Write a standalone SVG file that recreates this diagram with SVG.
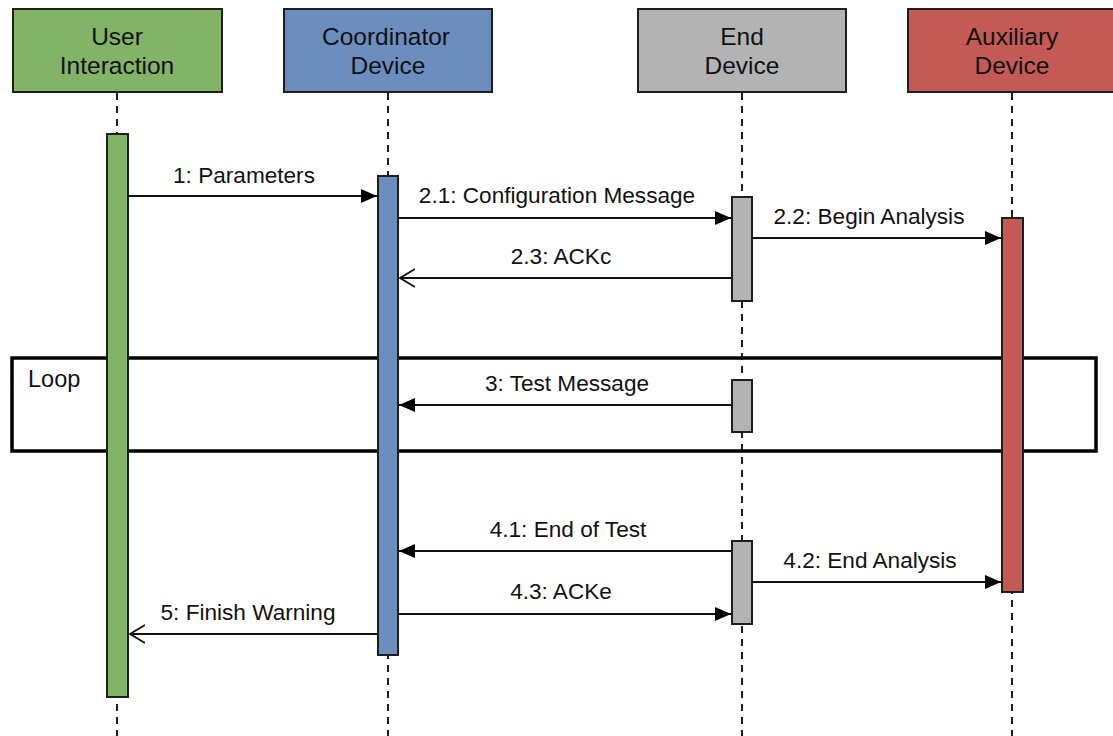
<svg xmlns="http://www.w3.org/2000/svg" width="1113" height="736" viewBox="0 0 1113 736">
  <defs>
    <style>
      .head { stroke: #1e1e1e; stroke-width: 2; }
      .bar { stroke: #1e1e1e; stroke-width: 2; }
      .life { stroke: #1e1e1e; stroke-width: 2; stroke-dasharray: 7 6; fill: none; }
      .green { fill: #82b366; }
      .blue { fill: #6c8ebf; }
      .gray { fill: #b3b3b3; }
      .red { fill: #c35a55; }
      .htxt { font-family: "Liberation Sans", Arial, sans-serif; font-size: 24.5px; fill: #111; text-anchor: middle; }
      .mtxt { font-family: "Liberation Sans", Arial, sans-serif; font-size: 22.6px; fill: #111; text-anchor: middle; }
      .msg { stroke: #111; stroke-width: 2; fill: none; }
      .frame { stroke: #000; stroke-width: 3.5; fill: none; }
    </style>
    <marker id="filled" viewBox="0 0 16 14" refX="16" refY="7" markerWidth="16" markerHeight="14" markerUnits="userSpaceOnUse" orient="auto">
      <path d="M0,0 L16,7 L0,14 Z" fill="#000"/>
    </marker>
    <marker id="open" viewBox="0 0 16 20" refX="15" refY="10" markerWidth="16" markerHeight="20" markerUnits="userSpaceOnUse" orient="auto">
      <path d="M0,1 L15,10 L0,19" fill="none" stroke="#111" stroke-width="1.8"/>
    </marker>
  </defs>

  <rect width="1113" height="736" fill="#ffffff"/>

  <!-- lifelines -->
  <g id="lifelines">
    <line class="life" x1="117" y1="93" x2="117" y2="736"/>
    <line class="life" x1="388" y1="93" x2="388" y2="736"/>
    <line class="life" x1="742" y1="93" x2="742" y2="736"/>
    <line class="life" x1="1012" y1="93" x2="1012" y2="736"/>
  </g>

  <!-- loop combined fragment -->
  <g id="loop">
    <rect class="frame" x="12" y="358" width="1084" height="93"/>
    <text x="28" y="387" font-family="Liberation Sans, Arial, sans-serif" font-size="23.5" fill="#111">Loop</text>
  </g>

  <!-- participants -->
  <g id="user">
    <rect class="head green" x="13" y="9" width="209" height="83"/>
    <text class="htxt" x="117" y="45">User</text>
    <text class="htxt" x="117" y="74">Interaction</text>
    <rect class="bar green" x="107" y="134" width="21" height="563"/>
  </g>

  <g id="coordinator">
    <rect class="head blue" x="284" y="9" width="208" height="83"/>
    <text class="htxt" x="386" y="45">Coordinator</text>
    <text class="htxt" x="388" y="74">Device</text>
    <rect class="bar blue" x="378" y="176" width="20" height="479"/>
  </g>

  <g id="end-device">
    <rect class="head gray" x="638" y="9" width="208" height="83"/>
    <text class="htxt" x="742" y="45">End</text>
    <text class="htxt" x="742" y="74">Device</text>
    <rect class="bar gray" x="732" y="197" width="20" height="104"/>
    <rect class="bar gray" x="732" y="380" width="20" height="52"/>
    <rect class="bar gray" x="732" y="541" width="20" height="83"/>
  </g>

  <g id="auxiliary">
    <rect class="head red" x="908" y="9" width="210" height="83"/>
    <text class="htxt" x="1012" y="45">Auxiliary</text>
    <text class="htxt" x="1012" y="74">Device</text>
    <rect class="bar red" x="1002" y="218" width="21" height="374"/>
  </g>

  <!-- messages -->
  <g id="connectors">
    <line class="msg" x1="128" y1="196" x2="377" y2="196" marker-end="url(#filled)"/>
    <text class="mtxt" x="244" y="183">1: Parameters</text>

    <line class="msg" x1="398" y1="218" x2="731" y2="218" marker-end="url(#filled)"/>
    <text class="mtxt" x="557" y="203">2.1: Configuration Message</text>

    <line class="msg" x1="752" y1="238" x2="1001" y2="238" marker-end="url(#filled)"/>
    <text class="mtxt" x="869" y="224">2.2: Begin Analysis</text>

    <line class="msg" x1="731" y1="278" x2="400" y2="278" marker-end="url(#open)"/>
    <text class="mtxt" x="561" y="264">2.3: ACKc</text>

    <line class="msg" x1="731" y1="405" x2="399" y2="405" marker-end="url(#filled)"/>
    <text class="mtxt" x="567" y="391">3: Test Message</text>

    <line class="msg" x1="731" y1="551" x2="399" y2="551" marker-end="url(#filled)"/>
    <text class="mtxt" x="568" y="537">4.1: End of Test</text>

    <line class="msg" x1="752" y1="582" x2="1001" y2="582" marker-end="url(#filled)"/>
    <text class="mtxt" x="870" y="568">4.2: End Analysis</text>

    <line class="msg" x1="398" y1="614" x2="731" y2="614" marker-end="url(#filled)"/>
    <text class="mtxt" x="561" y="599">4.3: ACKe</text>

    <line class="msg" x1="377" y1="634" x2="130" y2="634" marker-end="url(#open)"/>
    <text class="mtxt" x="248" y="620">5: Finish Warning</text>
  </g>
</svg>
